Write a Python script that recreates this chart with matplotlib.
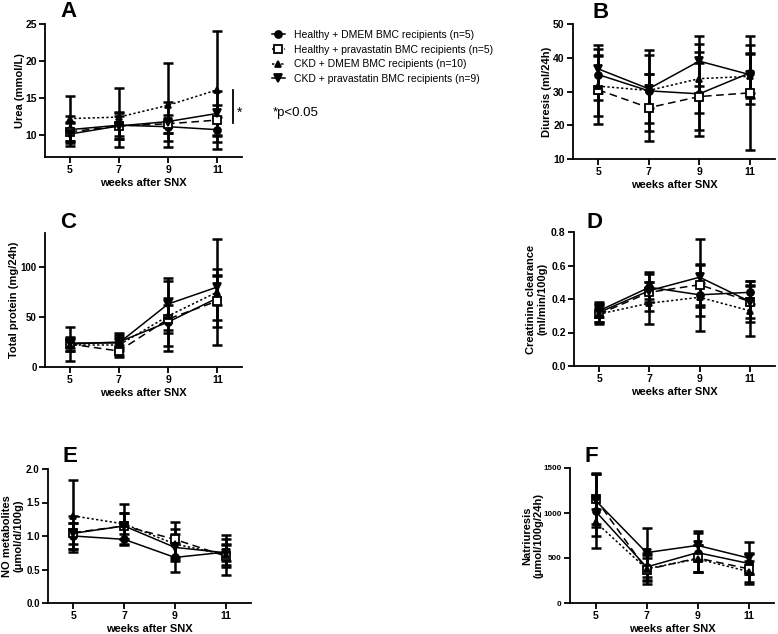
import matplotlib
matplotlib.use('Agg')
import matplotlib.pyplot as plt
from matplotlib.lines import Line2D

plt.rcParams['font.family'] = ['Liberation Sans', 'DejaVu Sans']

W, H, DPI = 778, 634, 100

weeks = [5, 7, 9, 11]
week_ticks = ['5', '7', '9', '11']
group_labels = ['Healthy + DMEM BMC recipients (n=5)',
                'Healthy + pravastatin BMC recipients (n=5)',
                'CKD + DMEM BMC recipients (n=10)',
                'CKD + pravastatin BMC recipients (n=9)']

# order of rows: Healthy+DMEM, Healthy+prava, CKD+DMEM, CKD+prava
urea_mean = [[10.7, 11.3, 11.1, 10.7],
             [10.4, 11.2, 11.5, 12.0],
             [12.2, 12.4, 14.0, 16.1],
             [10.1, 11.2, 11.8, 12.9]]
urea_sd = [[1.8, 1.8, 0.8, 1.7],
           [1.2, 1.4, 1.2, 2.0],
           [3.1, 4.0, 5.7, 8.0],
           [1.6, 1.8, 2.7, 3.1]]

diur_mean = [[35.0, 30.2, 29.3, 35.5],
             [30.5, 25.2, 28.5, 29.6],
             [31.6, 30.3, 33.8, 34.5],
             [36.7, 30.8, 39.0, 35.0]]
diur_sd = [[7.5, 5.0, 12.5, 6.0],
           [10.2, 10.0, 10.0, 16.8],
           [9.0, 12.0, 10.3, 6.5],
           [7.1, 10.0, 7.5, 8.8]]

prot_mean = [[23, 25, 45, 69],
             [23, 16, 48, 66],
             [22, 22, 51, 75],
             [24, 24, 63, 80]]
prot_sd = [[17, 9, 24, 22],
           [7, 6, 14, 26],
           [6, 10, 35, 53],
           [5, 6, 26, 18]]

crea_mean = [[0.33, 0.47, 0.425, 0.44],
             [0.31, 0.44, 0.485, 0.385],
             [0.31, 0.375, 0.41, 0.33],
             [0.32, 0.45, 0.53, 0.385]]
crea_sd = [[0.04, 0.09, 0.07, 0.07],
           [0.06, 0.11, 0.12, 0.12],
           [0.05, 0.125, 0.20, 0.15],
           [0.06, 0.05, 0.23, 0.10]]

no_mean = [[1.00, 0.95, 0.68, 0.76],
           [1.05, 1.15, 0.95, 0.70],
           [1.30, 1.18, 0.88, 0.72],
           [1.04, 1.15, 0.83, 0.75]]
no_sd = [[0.20, 0.08, 0.21, 0.20],
         [0.25, 0.20, 0.26, 0.16],
         [0.54, 0.30, 0.23, 0.30],
         [0.16, 0.20, 0.20, 0.13]]

na_mean = [[1020, 400, 560, 440],
           [1160, 370, 500, 380],
           [900, 380, 490, 350],
           [1140, 560, 640, 500]]
na_sd = [[410, 160, 220, 120],
         [280, 160, 150, 170],
         [150, 120, 150, 120],
         [290, 270, 160, 180]]

styles = [dict(marker='o', ls='-', ms=5, mfc='black'),
          dict(marker='s', ls=(0, (5, 3)), ms=5.5, mfc='white'),
          dict(marker='^', ls=(0, (1.5, 1.5)), ms=4, mfc='black'),
          dict(marker='v', ls='-', ms=6, mfc='black')]

fig = plt.figure(figsize=(W / DPI, H / DPI), dpi=DPI)


def rect(l, r, t, b):
    return [l / W, 1 - b / H, (r - l) / W, (b - t) / H]


panels = [
    ('A', rect(45, 242, 24, 157), urea_mean, urea_sd, (7, 25), [10, 15, 20, 25], ['10', '15', '20', '25'],
     'Urea (mmol/L)', -0.10, (60, 17), 7.5),
    ('B', rect(573, 775, 24, 159), diur_mean, diur_sd, (10, 50), [10, 20, 30, 40, 50], ['10', '20', '30', '40', '50'],
     'Diuresis (ml/24h)', -0.104, (592, 18), 7.5),
    ('C', rect(45, 242, 233, 367), prot_mean, prot_sd, (0, 134), [0, 50, 100], ['0', '50', '100'],
     'Total protein (mg/24h)', -0.132, (60, 228), 7.0),
    ('D', rect(574, 775, 232, 366), crea_mean, crea_sd, (0, 0.8), [0, 0.2, 0.4, 0.6, 0.8], ['0.0', '0.2', '0.4', '0.6', '0.8'],
     'Creatinine clearance\n(ml/min/100g)', -0.134, (587, 228), 7.5),
    ('E', rect(48, 251, 469, 603), no_mean, no_sd, (0, 2.0), [0, 0.5, 1.0, 1.5, 2.0], ['0.0', '0.5', '1.0', '1.5', '2.0'],
     'NO metabolites\n(\u03bcmol/d/100g)', -0.123, (63, 462), 7.0),
    ('F', rect(570, 774, 468, 603), na_mean, na_sd, (0, 1500), [0, 500, 1000, 1500], ['0', '500', '1000', '1500'],
     'Natriuresis\n(\u03bcmol/100g/24h)', -0.132, (585, 462), 5.8),
]

axes = {}
for letter, r, means, sds, ylim, yt, ytl, ylab, ylx, lpos, yts in panels:
    ax = fig.add_axes(r)
    axes[letter] = ax
    for i in range(4):
        ax.errorbar(weeks, means[i], yerr=sds[i], fmt='none', ecolor='black',
                    elinewidth=1.8, capsize=3.5, capthick=1.8, zorder=2)
        st = styles[i]
        ax.plot(weeks, means[i], color='black', lw=1.1, ls=st['ls'], marker=st['marker'],
                ms=st['ms'], mfc=st['mfc'], mec='black', mew=1.3, zorder=3,
                label=group_labels[i])
    ax.set_xlim(4, 12)
    ax.set_ylim(*ylim)
    ax.set_xticks(weeks)
    ax.set_xticklabels(week_ticks)
    ax.set_yticks(yt)
    ax.set_yticklabels(ytl)
    for s in ['top', 'right']:
        ax.spines[s].set_visible(False)
    for s in ['left', 'bottom']:
        ax.spines[s].set_linewidth(1.3)
    ax.tick_params(width=1.3, length=4, labelsize=7.5, pad=2)
    ax.tick_params(axis='y', labelsize=yts)
    for t in ax.get_xticklabels() + ax.get_yticklabels():
        t.set_fontweight('bold')
    ax.set_xlabel('weeks after SNX', fontsize=8, fontweight='bold', labelpad=2)
    ax.set_ylabel(ylab, fontsize=8, fontweight='bold', linespacing=1.1)
    ax.yaxis.set_label_coords(ylx, 0.5)
    fig.text(lpos[0] / W, 1 - lpos[1] / H, letter, fontsize=16, fontweight='bold',
             ha='left', va='baseline')

# significance marker in panel A
axA = axes['A']
axA.plot([11.63, 11.63], [11.6, 16.1], color='black', lw=1.3, clip_on=False)
axA.text(11.8, 13.0, '*', fontsize=10, ha='left', va='center', clip_on=False)

# legend
handles = []
for i in range(4):
    st = styles[i]
    handles.append(Line2D([], [], color='black', lw=1.1, ls=st['ls'], marker=st['marker'],
                          ms=st['ms'], mfc=st['mfc'], mec='black', mew=1.3))
fig.legend(handles, group_labels, loc='upper left', bbox_to_anchor=(272 / W, 1 - 30 / H),
           frameon=False, fontsize=7.5, handlelength=1.2, handletextpad=0.9,
           labelspacing=0.45, borderpad=0, borderaxespad=0)
fig.text(273 / W, 1 - 113 / H, '*p<0.05', fontsize=9.5, ha='left', va='center')

fig.savefig('out.png', dpi=DPI)
